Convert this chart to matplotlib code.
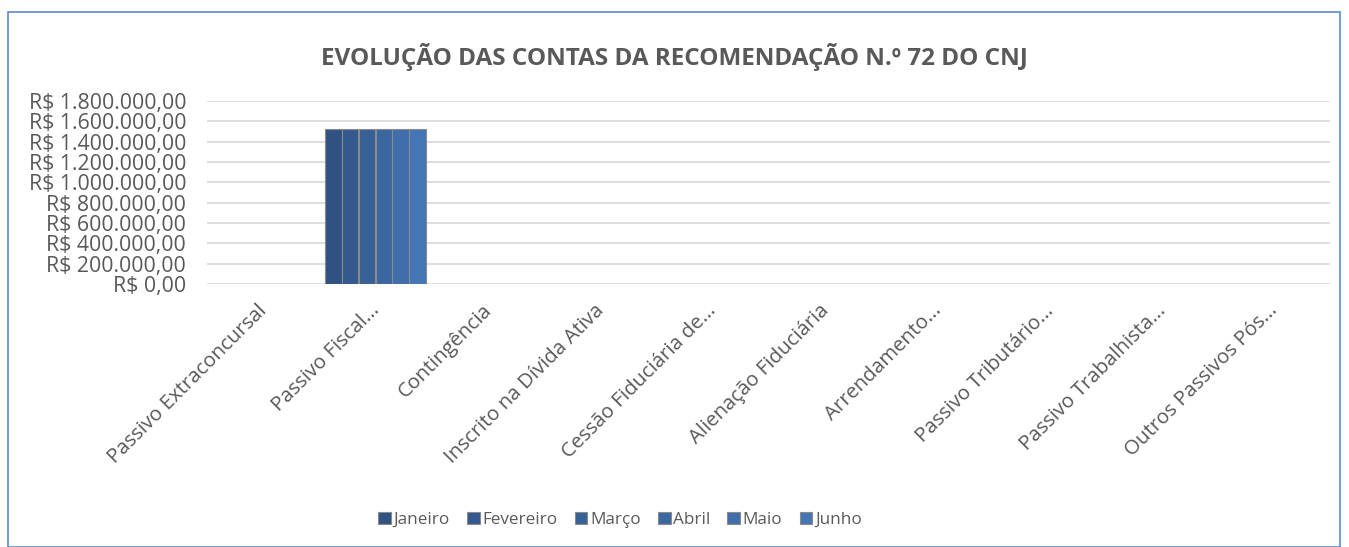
import numpy as np
import matplotlib.pyplot as plt
import matplotlib.transforms as mtrans
from matplotlib.patches import Rectangle

plt.rcParams['font.family'] = ['Open Sans', 'DejaVu Sans']

categorias = ['Passivo Extraconcursal', 'Passivo Fiscal...', 'Contingência',
              'Inscrito na Dívida Ativa', 'Cessão Fiduciária de...',
              'Alienação Fiduciária', 'Arrendamento...', 'Passivo Tributário...',
              'Passivo Trabalhista...', 'Outros Passivos Pós...']
meses = ['Janeiro', 'Fevereiro', 'Março', 'Abril', 'Maio', 'Junho']

janeiro = [0, 1525000, 0, 0, 0, 0, 0, 0, 0, 0]
fevereiro = [0, 1525000, 0, 0, 0, 0, 0, 0, 0, 0]
marco = [0, 1525000, 0, 0, 0, 0, 0, 0, 0, 0]
abril = [0, 1525000, 0, 0, 0, 0, 0, 0, 0, 0]
maio = [0, 1525000, 0, 0, 0, 0, 0, 0, 0, 0]
junho = [0, 1525000, 0, 0, 0, 0, 0, 0, 0, 0]
series = [janeiro, fevereiro, marco, abril, maio, junho]

cores = ['#2f5283', '#33598e', '#376097', '#3b67a1', '#3f6eab', '#4475b5']
cinza = '#595959'

fig = plt.figure(figsize=(13.49, 5.47), dpi=100)
# borda do gráfico
fig.patches.append(Rectangle((8 / 1349, 0.0), 1332 / 1349, 1 - 12 / 547,
                             transform=fig.transFigure, fill=False,
                             edgecolor='#5b8bd0', linewidth=1.2))

ax = fig.add_axes([207 / 1349, 1 - 284 / 547, 1123 / 1349, 183 / 547])

x = np.arange(len(categorias))
largura = 0.9 / len(meses)
for i, (mes, vals) in enumerate(zip(meses, series)):
    pos = x - 0.45 + largura * (i + 0.5)
    ax.bar(pos, vals, width=largura * 0.98, color=cores[i], edgecolor='#8a8a8a',
           linewidth=0.8, label=mes, zorder=3)

ax.set_xlim(-0.5, len(categorias) - 0.5)
ax.set_ylim(0, 1800000)
ticks = np.arange(0, 1800001, 200000)
ax.set_yticks(ticks)
ax.set_yticklabels(['R$ ' + f'{t:,.2f}'.replace(',', 'X').replace('.', ',').replace('X', '.')
                    for t in ticks], fontsize=15.3, color=cinza)
ax.set_xticks(x)
ax.set_xticklabels(categorias, rotation=45, ha='right', rotation_mode='anchor',
                   fontsize=14.7, color=cinza)
ax.tick_params(axis='both', length=0)
ax.tick_params(axis='y', pad=15)
ax.tick_params(axis='x', pad=12)
desloc = mtrans.ScaledTranslation(-6 / 100, 0, fig.dpi_scale_trans)
for lbl in ax.get_xticklabels():
    lbl.set_transform(lbl.get_transform() + desloc)
ax.yaxis.grid(True, color='#d9d9d9', linewidth=1.2, zorder=0)
for s in ax.spines.values():
    s.set_visible(False)

fig.text(0.5, 1 - 57 / 547, 'EVOLUÇÃO DAS CONTAS DA RECOMENDAÇÃO N.º 72 DO CNJ',
         ha='center', va='center', fontsize=17.5, fontweight='bold', color=cinza)

leg = fig.legend(loc='center', bbox_to_anchor=(620 / 1349, 1 - 520 / 547), ncol=6,
                 frameon=False, fontsize=12.3, handlelength=0.75, handleheight=0.75,
                 handletextpad=0.15, columnspacing=1.0, labelcolor=cinza)

fig.savefig('out.png', dpi=100)
